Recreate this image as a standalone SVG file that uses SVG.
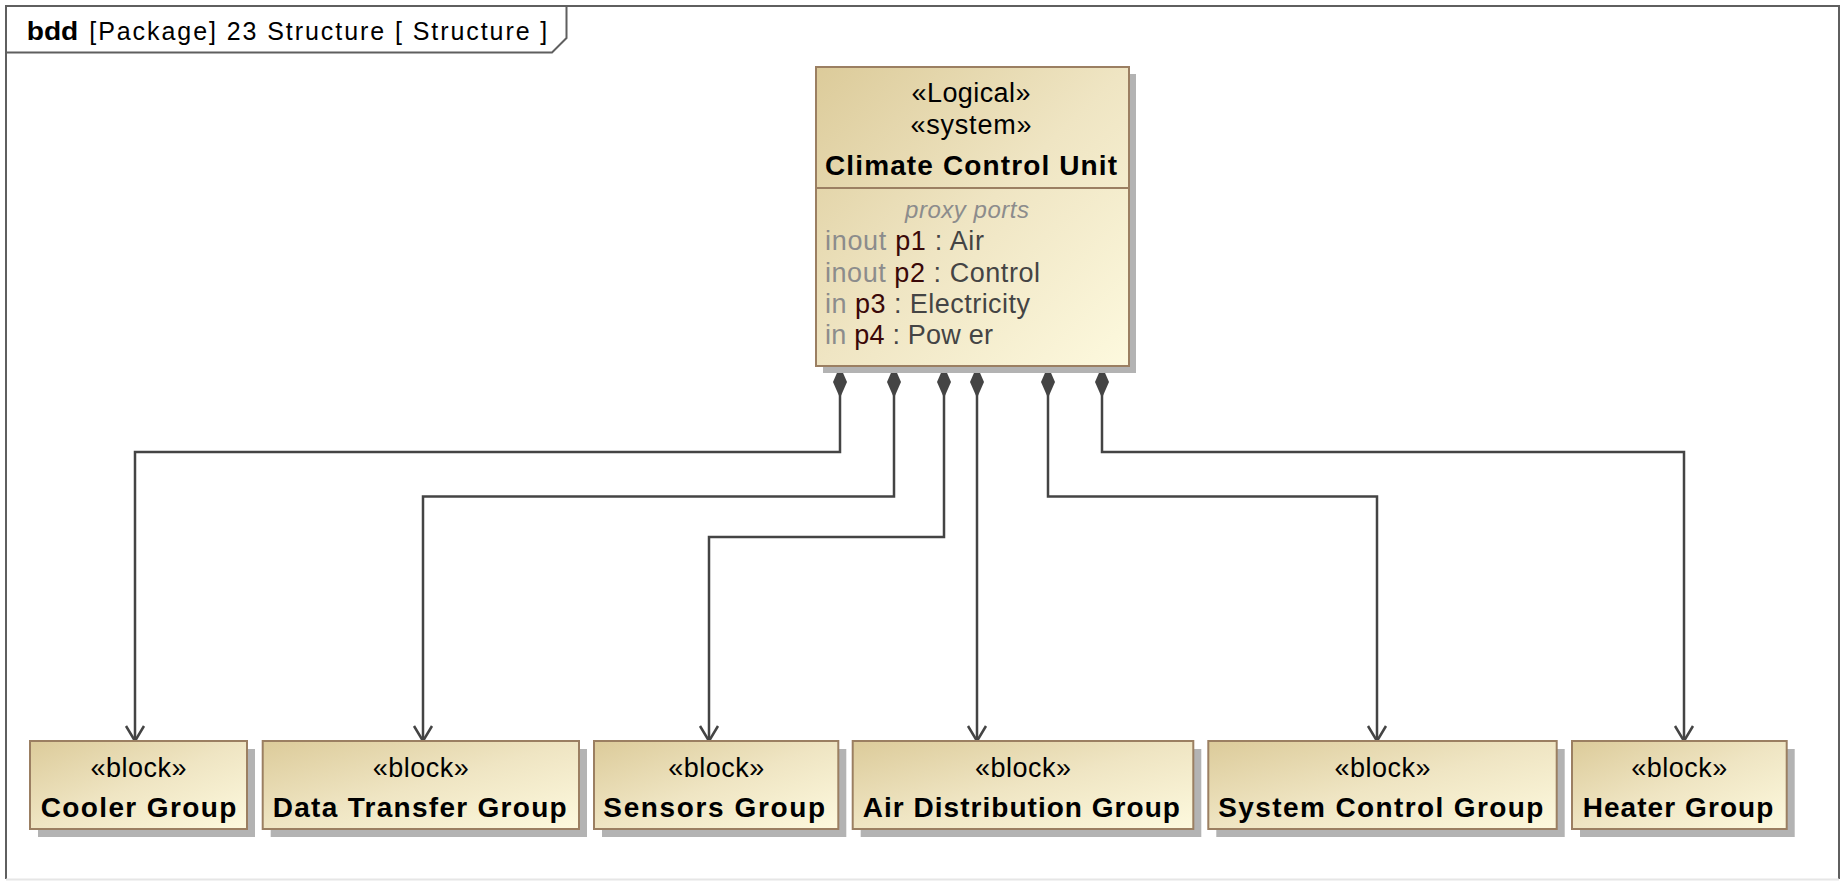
<svg xmlns="http://www.w3.org/2000/svg" width="1843" height="881" viewBox="0 0 1843 881">
  <style>
    .frame { fill: none; stroke: #5f5f5f; stroke-width: 2; }
    .frame-bottom { fill: none; stroke: #e6e6e6; stroke-width: 2; }
    .title { font-family: "Liberation Sans", Arial, sans-serif; font-size: 25px; fill: #000; }
    .title-kind { font-weight: bold; }
    .shadow { fill: #b3b3b3; }
    .body { fill: url(#blockFill); stroke: #9b7f62; stroke-width: 2; }
    .divider { stroke: #9b7f62; stroke-width: 2; }
    .stereo { font-family: "Liberation Sans", Arial, sans-serif; font-size: 27px; fill: #000; text-anchor: middle; }
    .name { font-family: "Liberation Sans", Arial, sans-serif; font-size: 28px; font-weight: bold; fill: #000; text-anchor: middle; }
    .compartment { font-family: "Liberation Sans", Arial, sans-serif; font-size: 24px; font-style: italic; fill: #8c8c8c; text-anchor: middle; }
    .port { font-family: "Liberation Sans", Arial, sans-serif; font-size: 27px; fill: #444; }
    .dir { fill: #8c8c8c; }
    .pname { fill: #3a0808; }
    .link { fill: none; stroke: #444; stroke-width: 2.5; marker-start: url(#composite); marker-end: url(#open); }
  </style>
  <defs>
    <linearGradient id="blockFill" x1="0" y1="0" x2="1" y2="1">
      <stop offset="0" stop-color="#dccb9a"/>
      <stop offset="0.5" stop-color="#efe5c3"/>
      <stop offset="1" stop-color="#fdf9de"/>
    </linearGradient>
    <!-- filled diamond at the whole end of a composition -->
    <marker id="composite" markerUnits="userSpaceOnUse" orient="auto" refX="0" refY="0" markerWidth="40" markerHeight="20" overflow="visible">
      <path d="M0 0 L16 -7 L32 0 L16 7 Z" fill="#444" stroke="none"/>
    </marker>
    <!-- open arrowhead at the part end -->
    <marker id="open" markerUnits="userSpaceOnUse" orient="auto" refX="0" refY="0" markerWidth="20" markerHeight="20" overflow="visible">
      <path d="M-15 -9 L0 0 L-15 9" fill="none" stroke="#444" stroke-width="2.5"/>
    </marker>
  </defs>

  <rect x="0" y="0" width="1843" height="881" fill="#fff"/>

  <!-- diagram frame -->
  <g id="frame">
    <path class="frame" d="M6 879 V6 H1839 V879"/>
    <path class="frame-bottom" d="M6 879.5 H1839"/>
    <path class="frame" d="M6 52.5 H552 L566.5 38 V6"/>
    <text class="title title-kind" x="26.7" y="40" textLength="51.6" lengthAdjust="spacingAndGlyphs">bdd</text>
    <text class="title" x="89.3" y="40" textLength="458" lengthAdjust="spacing">[Package] 23 Structure [ Structure ]</text>
  </g>

  <!-- composition connectors -->
  <g id="connectors">
    <path class="link" d="M840 366 V452 H135 V741"/>
    <path class="link" d="M894 366 V496.5 H423 V741"/>
    <path class="link" d="M944 366 V537 H709 V741"/>
    <path class="link" d="M977 366 V741"/>
    <path class="link" d="M1048 366 V496.5 H1377 V741"/>
    <path class="link" d="M1102 366 V452 H1684 V741"/>
  </g>

  <g id="climate-control-unit">
    <rect class="shadow" x="823" y="74" width="313" height="299"/>
    <rect class="body" x="816" y="67" width="313" height="299"/>
    <line class="divider" x1="816" y1="188" x2="1129" y2="188"/>
    <text class="stereo" x="971" y="101.5" textLength="119">«Logical»</text>
    <text class="stereo" x="971" y="134" textLength="121">«system»</text>
    <text class="name" x="971" y="174.5" textLength="292">Climate Control Unit</text>
    <text class="compartment" x="967" y="218" textLength="124">proxy ports</text>
    <text class="port" x="825" y="250" textLength="159"><tspan class="dir">inout</tspan> <tspan class="pname">p1</tspan> : Air</text>
    <text class="port" x="825" y="281.5" textLength="215"><tspan class="dir">inout</tspan> <tspan class="pname">p2</tspan> : Control</text>
    <text class="port" x="825" y="312.5" textLength="205"><tspan class="dir">in</tspan> <tspan class="pname">p3</tspan> : Electricity</text>
    <text class="port" x="825" y="343.5" textLength="168"><tspan class="dir">in</tspan> <tspan class="pname">p4</tspan> : Pow er</text>
  </g>

  <g id="cooler-group">
    <rect class="shadow" x="38" y="749" width="217" height="88"/>
    <rect class="body" x="30" y="741" width="217" height="88"/>
    <text class="stereo" x="138.5" y="776.5" textLength="96">«block»</text>
    <text class="name" x="138.5" y="817" textLength="195.7">Cooler Group</text>
  </g>

  <g id="data-transfer-group">
    <rect class="shadow" x="270.7" y="749" width="316.3" height="88"/>
    <rect class="body" x="262.7" y="741" width="316.3" height="88"/>
    <text class="stereo" x="420.8" y="776.5" textLength="96">«block»</text>
    <text class="name" x="419.7" y="817" textLength="294">Data Transfer Group</text>
  </g>

  <g id="sensors-group">
    <rect class="shadow" x="602" y="749" width="244.3" height="88"/>
    <rect class="body" x="594" y="741" width="244.3" height="88"/>
    <text class="stereo" x="716.2" y="776.5" textLength="96">«block»</text>
    <text class="name" x="714.2" y="817" textLength="221.7">Sensors Group</text>
  </g>

  <g id="air-distribution-group">
    <rect class="shadow" x="860.7" y="749" width="340.6" height="88"/>
    <rect class="body" x="852.7" y="741" width="340.6" height="88"/>
    <text class="stereo" x="1023" y="776.5" textLength="96">«block»</text>
    <text class="name" x="1021.3" y="817" textLength="317.3">Air Distribution Group</text>
  </g>

  <g id="system-control-group">
    <rect class="shadow" x="1216.3" y="749" width="348.4" height="88"/>
    <rect class="body" x="1208.3" y="741" width="348.4" height="88"/>
    <text class="stereo" x="1382.5" y="776.5" textLength="96">«block»</text>
    <text class="name" x="1380.8" y="817" textLength="325">System Control Group</text>
  </g>

  <g id="heater-group">
    <rect class="shadow" x="1580" y="749" width="214.7" height="88"/>
    <rect class="body" x="1572" y="741" width="214.7" height="88"/>
    <text class="stereo" x="1679.3" y="776.5" textLength="96">«block»</text>
    <text class="name" x="1678" y="817" textLength="190.7">Heater Group</text>
  </g>
</svg>
